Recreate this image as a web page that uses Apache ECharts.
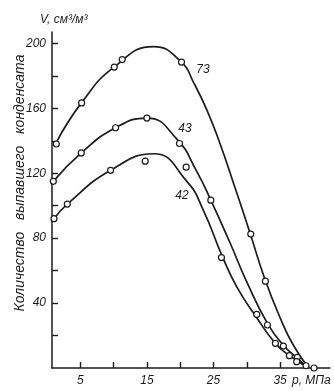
<!DOCTYPE html>
<html>
<head>
<meta charset="utf-8">
<script src="https://cdn.jsdelivr.net/npm/echarts@6/dist/echarts.min.js"></script>
<style>
  html, body { margin: 0; padding: 0; background: #fff; }
  #chart { width: 334px; height: 391px; }
</style>
</head>
<body>
<div id="chart"></div>
<script>
// Pressure p (MPa) and condensate volume V (cm3/m3) along each smooth curve
const curve73P = [1.4, 5.2, 10.1, 16, 20.2, 22, 24, 26, 28, 30.5, 32.7, 35, 37, 39.3];
const curve73V = [139, 163.5, 185.5, 198, 188.5, 176, 159, 138, 114, 83, 55, 31, 14, 0];

const curve43P = [0.95, 5.15, 10.3, 15, 19.5, 22.5, 24.6, 27.5, 30, 33.1, 35.5, 37.6, 39.3];
const curve43V = [115, 132.5, 148, 154, 141, 121, 103.4, 77, 53, 27.5, 14, 6, 0];

const curve42P = [1.05, 3.05, 9.55, 16, 21, 23.5, 26.2, 28.5, 31.5, 34.3, 36.4, 39.3];
const curve42V = [92, 101, 121.8, 132, 115, 97, 70, 50, 31, 15.2, 7.6, 0];

// Measured points (hollow circles)
const meas73P = [1.4, 5.2, 10.1, 11.3, 20.2, 30.6, 32.8, 38.9, 40.1];
const meas73V = [138, 163.3, 185.4, 190, 188.5, 82.5, 53.5, 1.4, 0];

const meas43P = [0.95, 5.15, 10.3, 15, 19.9, 24.6, 33.1, 35.5, 37.6];
const meas43V = [115, 132.5, 148, 154, 138.3, 103.4, 26.5, 13.5, 6.6];

const meas42P = [1.05, 3.05, 9.55, 14.75, 20.9, 26.2, 31.5, 34.3, 36.4, 37.5];
const meas42V = [92, 101, 121.8, 127.4, 123.7, 68, 33, 15.2, 7.6, 3.9];

// Axis ticks and labels
const xTicks = [5, 10, 15, 20, 25, 30, 35];
const xLabels = [5, 15, 25, 35];
const yTicks = [20, 40, 60, 80, 100, 120, 140, 160, 180, 200];
const yLabels = [40, 80, 120, 160, 200];

const curveNames = ['73', '43', '42'];

const ink = '#1c1c1c';
const fontFam = '"Liberation Sans", Arial, sans-serif';

function pairs(xs, ys) { return xs.map((x, i) => [x, ys[i]]); }

const curves = [
  pairs(curve73P, curve73V),
  pairs(curve43P, curve43V),
  pairs(curve42P, curve42V)
];
const measured = [
  pairs(meas73P, meas73V),
  pairs(meas43P, meas43V),
  pairs(meas42P, meas42V)
];

const series = [];
curves.forEach((d, i) => {
  series.push({
    name: curveNames[i],
    type: 'line',
    data: d,
    smooth: 0.5,
    showSymbol: false,
    lineStyle: { color: ink, width: 1.7 },
    z: 2,
    silent: true
  });
});
measured.forEach((d, i) => {
  series.push({
    name: curveNames[i] + ' pts',
    type: 'scatter',
    data: d,
    symbol: 'circle',
    symbolSize: 6,
    itemStyle: { color: '#fff', borderColor: ink, borderWidth: 1.2, opacity: 1 },
    z: 3,
    silent: true
  });
});

const chart = echarts.init(document.getElementById('chart'), null, { renderer: 'canvas' });

const option = {
  animation: false,
  backgroundColor: '#fff',
  grid: { left: 52, right: 4, top: 32, bottom: 23, containLabel: false },
  xAxis: {
    type: 'value',
    min: 0.75,
    max: 42.5,
    axisLine: { onZero: false, lineStyle: { color: ink, width: 1.5 } },
    axisTick: { show: true, inside: true, length: 6, customValues: xTicks, lineStyle: { color: ink, width: 1.4 } },
    axisLabel: {
      customValues: xLabels,
      margin: 7,
      color: ink,
      fontSize: 12,
      fontStyle: 'italic',
      fontFamily: fontFam
    },
    splitLine: { show: false }
  },
  yAxis: {
    type: 'value',
    min: 0,
    max: 207,
    axisLine: { show: true, onZero: false, lineStyle: { color: ink, width: 1.5 } },
    axisTick: { show: true, inside: true, length: 6, customValues: yTicks, lineStyle: { color: ink, width: 1.4 } },
    axisLabel: {
      customValues: yLabels,
      margin: 6,
      color: ink,
      fontSize: 12,
      fontStyle: 'italic',
      fontFamily: fontFam
    },
    splitLine: { show: false }
  },
  graphic: [
    {
      type: 'text',
      x: 20, y: 183,
      rotation: Math.PI / 2,
      style: {
        text: 'Количество   выпавшего   конденсата',
        fill: ink,
        font: 'italic 14px ' + fontFam,
        align: 'center',
        verticalAlign: 'middle'
      }
    },
    {
      type: 'text',
      x: 40, y: 20,
      style: {
        text: 'V, см³/м³',
        fill: ink,
        font: 'italic 12px ' + fontFam,
        align: 'left',
        verticalAlign: 'middle'
      }
    },
    {
      type: 'text',
      x: 292, y: 381,
      style: {
        text: 'р, МПа',
        fill: ink,
        font: 'italic 12px ' + fontFam,
        align: 'left',
        verticalAlign: 'middle'
      }
    },
    {
      type: 'text', x: 203, y: 70,
      style: { text: curveNames[0], fill: ink, font: 'italic 12px ' + fontFam, align: 'center', verticalAlign: 'middle' }
    },
    {
      type: 'text', x: 185, y: 129,
      style: { text: curveNames[1], fill: ink, font: 'italic 12px ' + fontFam, align: 'center', verticalAlign: 'middle' }
    },
    {
      type: 'text', x: 182, y: 196,
      style: { text: curveNames[2], fill: ink, font: 'italic 12px ' + fontFam, align: 'center', verticalAlign: 'middle' }
    }
  ],
  series: series
};

chart.setOption(option);
</script>
</body>
</html>
